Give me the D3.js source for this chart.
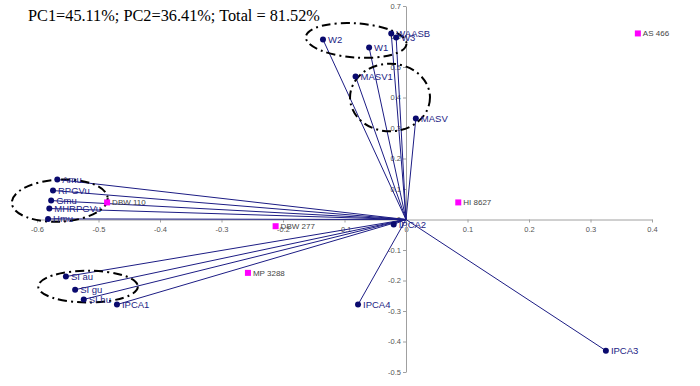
<!DOCTYPE html>
<html>
<head>
<meta charset="utf-8">
<script src="https://cdn.jsdelivr.net/npm/d3@7"></script>
<style>
  body { margin: 0; background: #fff; }
  svg { display: block; }
  .tick text { font-family: "Liberation Sans", Arial, sans-serif; font-size: 7.5px; fill: #555; }
  .trait-label { font-family: "Liberation Sans", Arial, sans-serif; font-size: 9.5px; fill: #1c1c84; }
  .geno-label { font-family: "Liberation Sans", Arial, sans-serif; font-size: 8px; fill: #444; }
</style>
</head>
<body>
<svg width="700" height="386"></svg>
<script>
// trait vectors (PC1, PC2)
var traitNames = ["W2", "W1", "WAASB", "W3", "MASV1", "MASV", "Amu", "RPGVu", "Gmu", "MHRPGVu", "Hmu",
    "SI au", "SI gu", "SI hu", "IPCA1", "IPCA2", "IPCA4", "IPCA3"];
var traitPC1 = [-0.135, -0.060, -0.024, -0.016, -0.082, 0.016, -0.567, -0.574, -0.577, -0.580, -0.582,
    -0.553, -0.538, -0.524, -0.470, -0.020, -0.078, 0.325];
var traitPC2 = [0.590, 0.564, 0.610, 0.597, 0.469, 0.331, 0.131, 0.095, 0.062, 0.036, 0.002,
    -0.187, -0.230, -0.262, -0.279, -0.016, -0.279, -0.430];

// genotypes
var genoNames = ["AS 466", "HI 8627", "DBW 110", "DBW 277", "MP 3288"];
var genoPC1 = [0.377, 0.085, -0.486, -0.212, -0.257];
var genoPC2 = [0.610, 0.056, 0.056, -0.022, -0.175];

// axis ticks
var xTicks = [-0.6, -0.5, -0.4, -0.3, -0.2, -0.1, 0, 0.1, 0.2, 0.3, 0.4];
var yTicks = [-0.5, -0.4, -0.3, -0.2, -0.1, 0, 0.1, 0.2, 0.3, 0.4, 0.5, 0.6, 0.7];

// grouping ellipses, in PC units: cx, cy, rx, ry, angle
var groupCx = [-0.081, -0.026, -0.563, -0.517];
var groupCy = [0.587, 0.400, 0.062, -0.220];
var groupRx = [0.082, 0.065, 0.078, 0.081];
var groupRy = [0.056, 0.111, 0.069, 0.052];
var groupAngle = [4, 0, -3, 0];

var title = "PC1=45.11%; PC2=36.41%; Total = 81.52%";

var svg = d3.select("svg");
var x = d3.scaleLinear().domain([-0.6, 0.4]).range([37, 652]);
var y = d3.scaleLinear().domain([-0.5, 0.7]).range([372, 6]);
var fmt = d => d === 0 ? "0" : String(+d.toFixed(1));

svg.append("text")
    .attr("x", 28)
    .attr("y", 21)
    .attr("font-family", "Liberation Serif, Times New Roman, serif")
    .attr("font-size", 16.3)
    .text(title);

// axes
var xAxis = svg.append("g")
    .attr("transform", `translate(0,${y(0)})`)
    .call(d3.axisBottom(x).tickValues(xTicks).tickFormat(fmt).tickSize(3).tickSizeOuter(0).tickPadding(4));
var yAxis = svg.append("g")
    .attr("transform", `translate(${x(0)},0)`)
    .call(d3.axisLeft(y).tickValues(yTicks).tickFormat(fmt).tickSize(3).tickSizeOuter(0).tickPadding(2));
[xAxis, yAxis].forEach(a => {
    a.select(".domain").attr("stroke", "#a0a0a0");
    a.selectAll(".tick line").attr("stroke", "#a0a0a0");
});

var traits = traitNames.map((n, i) => ({ name: n, pc1: traitPC1[i], pc2: traitPC2[i] }));
var genos = genoNames.map((n, i) => ({ name: n, pc1: genoPC1[i], pc2: genoPC2[i] }));

// vectors from origin
svg.selectAll("line.vec").data(traits).enter()
    .append("line")
    .attr("class", "vec")
    .attr("x1", x(0)).attr("y1", y(0))
    .attr("x2", d => x(d.pc1)).attr("y2", d => y(d.pc2))
    .attr("stroke", "#1c1c84")
    .attr("stroke-width", 1);

// grouping ellipses
svg.selectAll("ellipse").data(groupCx).enter()
    .append("ellipse")
    .attr("transform", (d, i) => `translate(${x(d)},${y(groupCy[i])}) rotate(${groupAngle[i]})`)
    .attr("rx", (d, i) => x(groupRx[i]) - x(0))
    .attr("ry", (d, i) => y(0) - y(groupRy[i]))
    .attr("fill", "none")
    .attr("stroke", "#000")
    .attr("stroke-width", 2)
    .attr("stroke-dasharray", "9,4,2,4");

// trait points
svg.selectAll("circle").data(traits).enter()
    .append("circle")
    .attr("cx", d => x(d.pc1)).attr("cy", d => y(d.pc2))
    .attr("r", 3)
    .attr("fill", "#0a0a6e");
svg.selectAll("text.trait-label").data(traits).enter()
    .append("text")
    .attr("class", "trait-label")
    .attr("x", d => x(d.pc1) + 5)
    .attr("y", d => y(d.pc2) + 3.5)
    .text(d => d.name);

// genotype points
svg.selectAll("rect.geno-pt").data(genos).enter()
    .append("rect")
    .attr("class", "geno-pt")
    .attr("x", d => x(d.pc1) - 3).attr("y", d => y(d.pc2) - 3)
    .attr("width", 6).attr("height", 6)
    .attr("fill", "#ff00ff");
svg.selectAll("text.geno-label").data(genos).enter()
    .append("text")
    .attr("class", "geno-label")
    .attr("x", d => x(d.pc1) + 5)
    .attr("y", d => y(d.pc2) + 3)
    .text(d => d.name);
</script>
</body>
</html>
